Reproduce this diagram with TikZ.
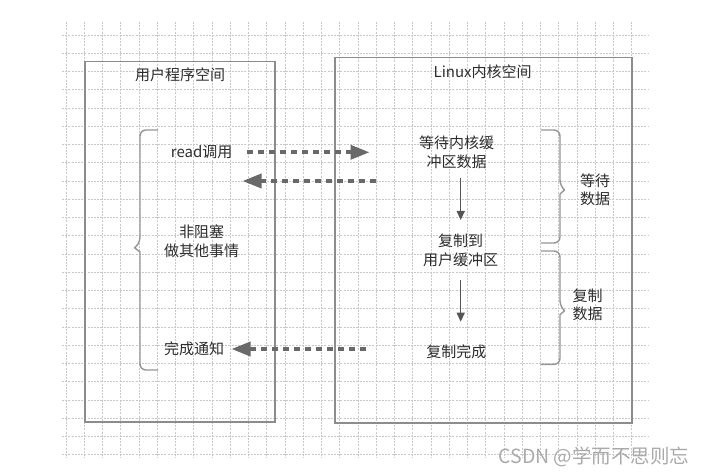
\documentclass[tikz,border=0pt]{standalone}
\usepackage{fontspec}
\newfontfamily\cjk{Noto Sans CJK SC}
\usetikzlibrary{arrows.meta}
\definecolor{gridc}{RGB}{200,200,200}
\definecolor{boxc}{RGB}{140,140,140}
\definecolor{bracec}{RGB}{150,150,150}
\definecolor{textc}{RGB}{45,45,45}
\definecolor{arrowc}{RGB}{105,105,105}
\definecolor{downc}{RGB}{85,85,85}
\definecolor{markc}{RGB}{170,170,170}
\tikzset{
  gridline/.style={draw=gridc, line width=0.6pt, dash pattern=on 2pt off 1.2pt},
  panel/.style={draw=boxc, line width=1.6pt, inner sep=0pt},
  label/.style={font=\cjk\fontsize{15}{18.5}\selectfont, text=textc, inner sep=0pt, align=center},
  dasharrow/.style={draw=arrowc, line width=3.6pt, dash pattern=on 6pt off 5pt,
    -{Triangle[length=19pt,width=14pt,fill=arrowc]}},
  downarrow/.style={draw=downc, line width=1.3pt, -{Triangle[length=9pt,width=8pt,fill=downc]}},
  bracket/.style={draw=bracec, line width=1.4pt, line join=round},
}
\begin{document}
\begin{tikzpicture}[x=1pt,y=-1pt]
\useasboundingbox (0,0) rectangle (705,476);
\fill[white] (0,0) rectangle (705,476);
% grid
\foreach \i in {0,...,31} \draw[gridline] ({66+18.25*\i},22) -- ({66+18.25*\i},458);
\foreach \j in {0,...,23} \draw[gridline] (62,{35+18.25*\j}) -- (648,{35+18.25*\j});
% panels
\node[panel, minimum width=190pt, minimum height=360pt] (ubox) at (180,241.7) {};
\node[panel, minimum width=296.7pt, minimum height=365.3pt] (kbox) at (483.35,240.35) {};
\node[label] (utitle) at (180,75) {用户程序空间};
\node[label] (ktitle) at (482.6,72) {Linux内核空间};
% left column
\node[label] (read) at (201.7,152.3) {read调用};
\node[label] (nonblock) at (201.7,241.5) {非阻塞\\做其他事情};
\node[label] (notify) at (194,349) {完成通知};
% kernel column
\node[label] (wait) at (456.7,152.3) {等待内核缓\\冲区数据};
\node[label] (copy) at (460.5,250.5) {复制到\\用户缓冲区};
\node[label] (done) at (456.3,351.7) {复制完成};
% right labels
\node[label] (waitdata) at (595,189.7) {等待\\数据};
\node[label] (copydata) at (587.7,305) {复制\\数据};
% watermark
\node[font=\cjk\fontsize{19.5}{22}\selectfont, text=markc, inner sep=0pt] (mark) at (594,457) {CSDN @学而不思则忘};
% dashed arrows
\coordinate (a1s) at (247,152.3);
\coordinate (a1e) at (369.5,152.3);
\coordinate (a2s) at (375.5,181);
\coordinate (a2e) at (242.5,181);
\coordinate (a3s) at (365.5,349);
\coordinate (a3e) at (231.5,349);
\draw[dasharrow] (a1s) -- (a1e);
\draw[dasharrow] (a2s) -- (a2e);
\draw[dasharrow] (a3s) -- (a3e);
% down arrows
\coordinate (d1s) at (460.7,178.3);
\coordinate (d1e) at (460.7,220);
\coordinate (d2s) at (460.7,280);
\coordinate (d2e) at (460.7,321.7);
\draw[downarrow] (d1s) -- (d1e);
\draw[downarrow] (d2s) -- (d2e);
% braces
\draw[bracket, rounded corners=6pt] (158,130) -- (140,130) -- (140,243.5) [sharp corners] -- (134.5,247.7) -- (140,252) [rounded corners=6pt] -- (140,370) -- (158,370);
\draw[bracket, rounded corners=6pt] (541,130) -- (560,130) -- (560,186) [sharp corners] -- (564.5,190) -- (560,194) [rounded corners=6pt] -- (560,243) -- (541,243);
\draw[bracket, rounded corners=6pt] (541,251) -- (560,251) -- (560,306.7) [sharp corners] -- (564.5,310.7) -- (560,314.7) [rounded corners=6pt] -- (560,364.3) -- (541,364.3);
\end{tikzpicture}
\end{document}
